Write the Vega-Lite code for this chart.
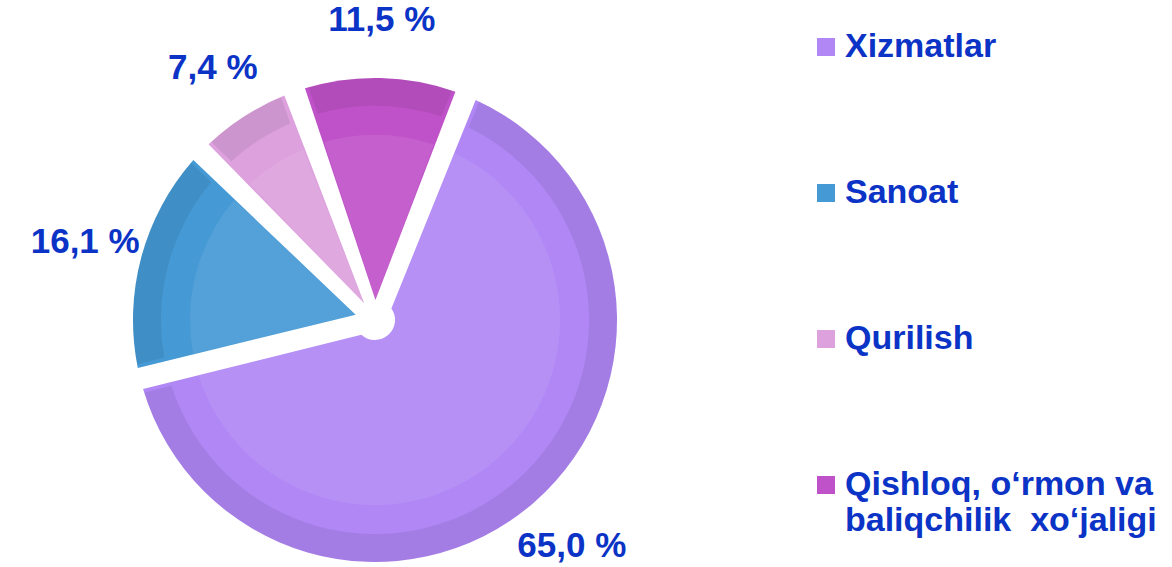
{
  "$schema": "https://vega.github.io/schema/vega-lite/v6.json",
  "width": 750,
  "height": 494,
  "autosize": {"type": "none"},
  "padding": {"left": 0, "top": 73, "right": 422, "bottom": 0},
  "background": "white",
  "config": {"view": {"stroke": null}},
  "data": {
    "values": [
      {"k": 1, "sector": "Xizmatlar", "value": 65.0, "label": "65,0 %"},
      {"k": 2, "sector": "Sanoat", "value": 16.1, "label": "16,1 %"},
      {"k": 3, "sector": "Qurilish", "value": 7.4, "label": "7,4 %"},
      {"k": 4, "sector": "Qishloq, o‘rmon va\nbaliqchilik\u00a0 xo‘jaligi", "value": 11.5, "label": "11,5 %"}
    ]
  },
  "encoding": {
    "theta": {"field": "value", "type": "quantitative", "stack": true, "scale": {"range": [0.384, 6.667]}},
    "order": {"field": "k", "type": "quantitative"},
    "color": {
      "field": "sector",
      "type": "nominal",
      "sort": null,
      "scale": {
        "domain": ["Xizmatlar", "Sanoat", "Qurilish", "Qishloq, o‘rmon va\nbaliqchilik\u00a0 xo‘jaligi"],
        "range": ["#b187f6", "#4599d5", "#dda1dd", "#c052c9"]
      },
      "legend": {
        "title": null,
        "orient": "none",
        "legendX": 809,
        "legendY": -43,
        "symbolType": "square",
        "symbolSize": 324,
        "symbolStrokeWidth": 0,
        "labelFont": "Liberation Sans",
        "labelFontSize": 34,
        "labelFontWeight": "bold",
        "labelColor": "#0b33c6",
        "labelOffset": 2,
        "labelLimit": 400,
        "rowPadding": 112,
        "labelExpr": "split(datum.label, '\\n')"
      }
    }
  },
  "layer": [
    {
      "mark": {"type": "arc", "outerRadius": 242, "innerRadius": 20, "padAngle": 0.09, "stroke": null}
    },
    {
      "mark": {"type": "arc", "outerRadius": 242, "innerRadius": 214, "padAngle": 0.09, "fillOpacity": 0.07, "stroke": null},
      "encoding": {"color": {"value": "#000000"}}
    },
    {
      "mark": {"type": "arc", "outerRadius": 185, "innerRadius": 20, "padAngle": 0.12, "fillOpacity": 0.08, "stroke": null},
      "encoding": {"color": {"value": "#ffffff"}}
    },
    {
      "mark": {"type": "text", "radius": 300, "font": "Liberation Sans", "fontSize": 35, "fontWeight": "bold"},
      "encoding": {"text": {"field": "label"}, "color": {"value": "#0b33c6"}}
    }
  ]
}
